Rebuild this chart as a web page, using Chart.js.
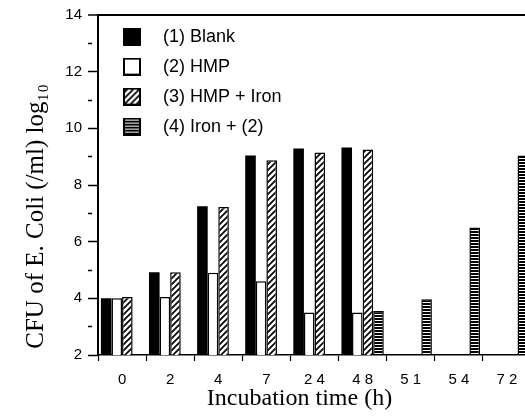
<!DOCTYPE html>
<html><head><meta charset="utf-8">
<script src="https://cdn.jsdelivr.net/npm/chart.js@4"></script>
<style>html,body{margin:0;padding:0;overflow:hidden;background:#fff;width:525px;height:419px}canvas{display:block}</style>
</head><body>
<canvas id="c" width="540" height="419"></canvas>
<script>
const categories = ['0', '2', '4', '7', '2 4', '4 8', '5 1', '5 4', '7 2'];
const seriesNames = ['(1) Blank', '(2) HMP', '(3) HMP + Iron', '(4) Iron + (2)'];
const blank   = [4.0, 4.92, 7.25, 9.04, 9.29, 9.32, null, null, null];
const hmp     = [4.0, 4.05, 4.9, 4.6, 3.5, 3.5, null, null, null];
const hmpIron = [4.05, 4.92, 7.22, 8.87, 9.15, 9.25, null, null, null];
const ironHmp = [null, null, null, null, null, 3.55, 3.97, 6.5, 9.04];
const yMin = 2, yMax = 14, yStep = 1, yLabelEvery = 2;
const xTitle = 'Incubation time (h)';
const yTitle = 'CFU of E. Coli (/ml) log\u2081\u2080';

function mk(w, h) { const c = document.createElement('canvas'); c.width = w; c.height = h; return [c, c.getContext('2d')]; }
function hatchTile() {
  const [c, g] = mk(6, 6);
  g.fillStyle = '#fff'; g.fillRect(0, 0, 6, 6);
  g.strokeStyle = '#000'; g.lineWidth = 1.7; g.beginPath();
  g.moveTo(0, 6); g.lineTo(6, 0); g.moveTo(-1, 1); g.lineTo(1, -1); g.moveTo(5, 7); g.lineTo(7, 5);
  g.stroke(); return c;
}
function stripeTile() {
  const [c, g] = mk(3, 3);
  g.fillStyle = '#fff'; g.fillRect(0, 0, 3, 3);
  g.fillStyle = '#000'; g.fillRect(0, 0, 3, 2);
  return c;
}
const ctx = document.getElementById('c').getContext('2d');
const tiles = [null, null, hatchTile(), stripeTile()];
const fills = ['#000', '#fff', ctx.createPattern(tiles[2], 'repeat'), ctx.createPattern(tiles[3], 'repeat')];

function icon(i) {
  const [c, g] = mk(18, 18);
  g.fillStyle = tiles[i] ? g.createPattern(tiles[i], 'repeat') : fills[i];
  g.fillRect(0, 0, 18, 18);
  g.strokeStyle = '#000'; g.lineWidth = 2; g.strokeRect(1, 1, 16, 16);
  return c;
}
const icons = fills.map((f, i) => icon(i));

const seriesData = [blank, hmp, hmpIron, ironHmp];
const datasets = seriesData.map((d, i) => ({
  label: seriesNames[i],
  data: d,
  backgroundColor: fills[i],
  borderColor: '#000',
  borderWidth: i === 0 ? 0 : 1.5,
  categoryPercentage: 0.88,
  barPercentage: 1.0
}));

new Chart(ctx, {
  type: 'bar',
  data: { labels: categories, datasets },
  options: {
    responsive: false,
    animation: false,
    layout: { padding: { left: 0, right: 9, top: 14, bottom: 0 } },
    plugins: {
      tooltip: { enabled: false },
      legend: {
        position: 'chartArea',
        align: 'start',
        title: { display: true, text: '', font: { size: 13 }, padding: 0 },
        labels: {
          usePointStyle: true,
          pointStyleWidth: 44,
          padding: 12,
          color: '#000',
          font: { family: '"Liberation Sans", Arial, sans-serif', size: 18 },
          generateLabels(chart) {
            const items = Chart.defaults.plugins.legend.labels.generateLabels(chart);
            items.forEach((it, i) => { it.pointStyle = icons[i]; });
            return items;
          }
        }
      }
    },
    scales: {
      x: {
        grid: { offset: true, drawOnChartArea: false, tickLength: 6, tickColor: '#000', tickWidth: 1.2 },
        border: { display: true, color: '#000', width: 1.5 },
        ticks: { color: '#000', padding: 10, maxRotation: 0, autoSkip: false,
                 font: { family: '"Liberation Sans", Arial, sans-serif', size: 15 } },
        title: { display: true, text: xTitle + '     ', color: '#000',
                 font: { family: '"Liberation Serif", "Times New Roman", serif', size: 24 },
                 padding: { top: 0, bottom: 6 } },
        afterFit(s) { s.height = 64; }
      },
      y: {
        min: yMin, max: yMax,
        ticks: { stepSize: yStep, color: '#000', padding: 6,
                 font: { family: '"Liberation Sans", Arial, sans-serif', size: 15 },
                 callback: v => (v % yLabelEvery === 0 ? v : '') },
        grid: {
          drawOnChartArea: true,
          color: c => (c.tick && c.tick.value === yMax ? '#000' : 'rgba(0,0,0,0)'),
          lineWidth: c => (c.tick && c.tick.value === yMax ? 2 : 1),
          tickColor: '#000', tickLength: 10, tickWidth: 1.5,
          tickBorderDash: c => (c.tick && c.tick.value % yLabelEvery !== 0 ? [4, 30] : [])
        },
        border: { display: true, color: '#000', width: 2 },
        title: { display: true, text: ' ' + yTitle, align: 'start', color: '#000',
                 font: { family: '"Liberation Serif", "Times New Roman", serif', size: 25 },
                 padding: { top: 21, bottom: 0 } },
        afterFit(s) { s.width = 98; }
      }
    }
  }
});
</script>
</body></html>
